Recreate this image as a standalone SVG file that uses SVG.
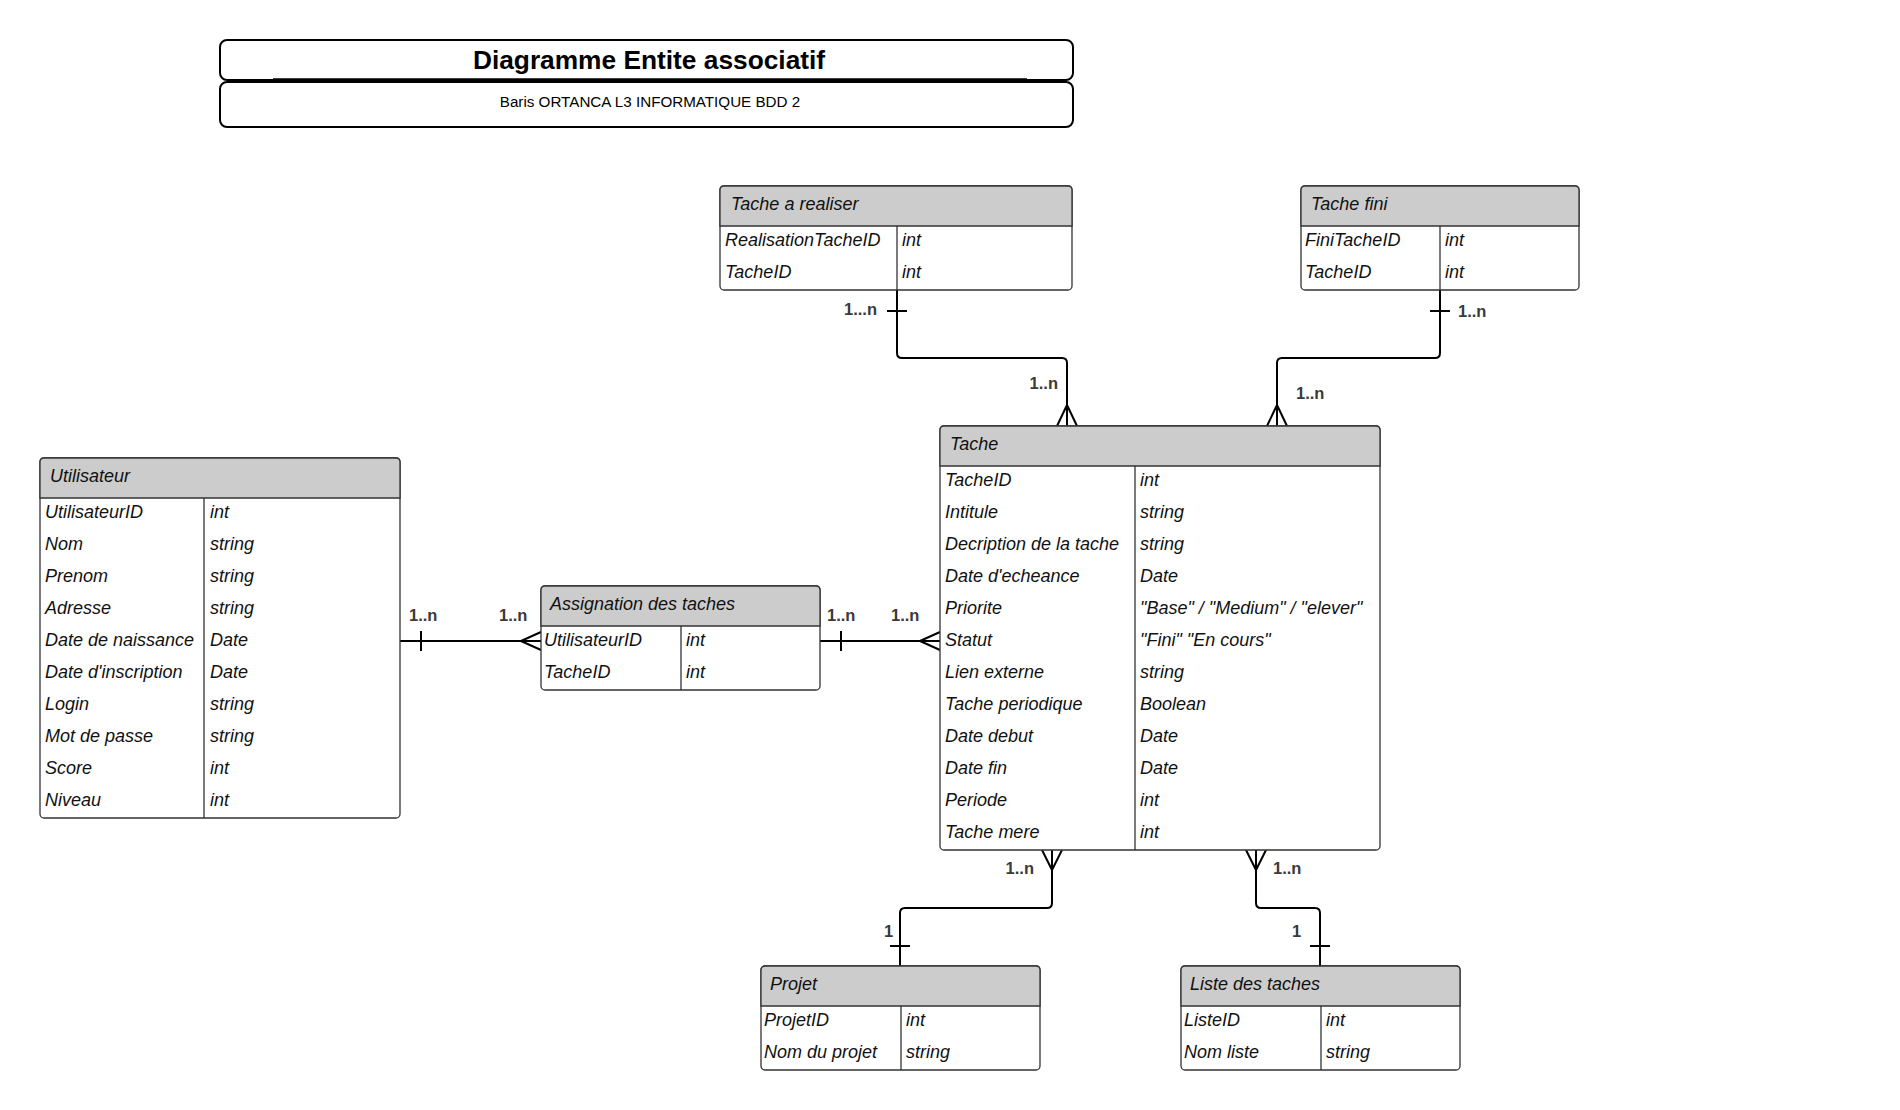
<svg xmlns="http://www.w3.org/2000/svg" width="1900" height="1110" viewBox="0 0 1900 1110">
<style>
.box{fill:#fff;stroke:#333;stroke-width:1.3}
.hdr{fill:#ccc;stroke:#333;stroke-width:1.3}
.sep{stroke:#333;stroke-width:1.3;fill:none}
.t{font-family:"Liberation Sans",Arial,sans-serif;font-size:18px;font-style:italic;fill:#111}
.lbl{font-family:"Liberation Sans",Arial,sans-serif;font-size:16.5px;font-weight:bold;fill:#3a3a3a}
.conn path,.conn line{stroke:#000;stroke-width:2;fill:none}
.title{font-family:"Liberation Sans",Arial,sans-serif;font-size:26.3px;font-weight:bold;fill:#000}
.sub{font-family:"Liberation Sans",Arial,sans-serif;font-size:15.2px;fill:#000}
</style>
<rect width="1900" height="1110" fill="#fff"/>

<g id="title">
<rect x="220" y="40" width="853" height="40" rx="7" fill="#fff" stroke="#000" stroke-width="2"/>
<line x1="273" y1="79.5" x2="1027" y2="79.5" stroke="#000" stroke-width="2.5"/>
<text class="title" x="649" y="69" text-anchor="middle">Diagramme Entite associatif</text>
</g>
<g id="subtitle">
<rect x="220" y="82" width="853" height="45" rx="7" fill="#fff" stroke="#000" stroke-width="2"/>
<text class="sub" x="650" y="107" text-anchor="middle">Baris ORTANCA L3 INFORMATIQUE BDD 2</text>
</g>

<g class="conn" id="connectors">
<!-- Tache a realiser -> Tache -->
<path d="M897 290 V353 Q897 358 902 358 H1062 Q1067 358 1067 363 V426"/>
<line x1="887" y1="311" x2="907" y2="311"/>
<path d="M1067 405 L1057 426 M1067 405 L1077 426"/>
<!-- Tache fini -> Tache -->
<path d="M1440 290 V353 Q1440 358 1435 358 H1282 Q1277 358 1277 363 V426"/>
<line x1="1430" y1="311" x2="1450" y2="311"/>
<path d="M1277 405 L1267 426 M1277 405 L1287 426"/>
<!-- Utilisateur -> Assignation -->
<path d="M400 641 H541"/>
<line x1="421" y1="631" x2="421" y2="651"/>
<path d="M521 641 L541 632 M521 641 L541 650"/>
<!-- Assignation -> Tache -->
<path d="M820 641 H940"/>
<line x1="841" y1="631" x2="841" y2="651"/>
<path d="M920 641 L940 632 M920 641 L940 650"/>
<!-- Tache -> Projet -->
<path d="M1052 850 V903 Q1052 908 1047 908 H905 Q900 908 900 913 V966"/>
<path d="M1052 870 L1042 850 M1052 870 L1062 850"/>
<line x1="890" y1="946" x2="910" y2="946"/>
<!-- Tache -> Liste -->
<path d="M1256 850 V903 Q1256 908 1261 908 H1315 Q1320 908 1320 913 V966"/>
<path d="M1256 870 L1246 850 M1256 870 L1266 850"/>
<line x1="1310" y1="946" x2="1330" y2="946"/>
<!-- labels -->
<text class="lbl" x="877" y="315" text-anchor="end">1...n</text>
<text class="lbl" x="1058" y="389" text-anchor="end">1..n</text>
<text class="lbl" x="1458" y="317">1..n</text>
<text class="lbl" x="1296" y="399">1..n</text>
<text class="lbl" x="409" y="621">1..n</text>
<text class="lbl" x="499" y="621">1..n</text>
<text class="lbl" x="827" y="621">1..n</text>
<text class="lbl" x="891" y="621">1..n</text>
<text class="lbl" x="1034" y="874" text-anchor="end">1..n</text>
<text class="lbl" x="1273" y="874">1..n</text>
<text class="lbl" x="884" y="937">1</text>
<text class="lbl" x="1292" y="937">1</text>
</g>

<g id="tache-a-realiser">
<rect class="box" x="720" y="186" width="352" height="104" rx="4"/>
<path class="hdr" d="M724 186 H1068 Q1072 186 1072 190 V226 H720 V190 Q720 186 724 186 Z"/>
<line class="sep" x1="897" y1="226" x2="897" y2="290"/>
<text class="t" x="731" y="210">Tache a realiser</text>
<text class="t" x="725" y="246">RealisationTacheID</text><text class="t" x="902" y="246">int</text>
<text class="t" x="725" y="278">TacheID</text><text class="t" x="902" y="278">int</text>
</g>

<g id="tache-fini">
<rect class="box" x="1301" y="186" width="278" height="104" rx="4"/>
<path class="hdr" d="M1305 186 H1575 Q1579 186 1579 190 V226 H1301 V190 Q1301 186 1305 186 Z"/>
<line class="sep" x1="1440" y1="226" x2="1440" y2="290"/>
<text class="t" x="1311" y="210">Tache fini</text>
<text class="t" x="1305" y="246">FiniTacheID</text><text class="t" x="1445" y="246">int</text>
<text class="t" x="1305" y="278">TacheID</text><text class="t" x="1445" y="278">int</text>
</g>

<g id="utilisateur">
<rect class="box" x="40" y="458" width="360" height="360" rx="4"/>
<path class="hdr" d="M44 458 H396 Q400 458 400 462 V498 H40 V462 Q40 458 44 458 Z"/>
<line class="sep" x1="204" y1="498" x2="204" y2="818"/>
<text class="t" x="50" y="482">Utilisateur</text>
<text class="t" x="45" y="518">UtilisateurID</text><text class="t" x="210" y="518">int</text>
<text class="t" x="45" y="550">Nom</text><text class="t" x="210" y="550">string</text>
<text class="t" x="45" y="582">Prenom</text><text class="t" x="210" y="582">string</text>
<text class="t" x="45" y="614">Adresse</text><text class="t" x="210" y="614">string</text>
<text class="t" x="45" y="646">Date de naissance</text><text class="t" x="210" y="646">Date</text>
<text class="t" x="45" y="678">Date d'inscription</text><text class="t" x="210" y="678">Date</text>
<text class="t" x="45" y="710">Login</text><text class="t" x="210" y="710">string</text>
<text class="t" x="45" y="742">Mot de passe</text><text class="t" x="210" y="742">string</text>
<text class="t" x="45" y="774">Score</text><text class="t" x="210" y="774">int</text>
<text class="t" x="45" y="806">Niveau</text><text class="t" x="210" y="806">int</text>
</g>

<g id="assignation">
<rect class="box" x="541" y="586" width="279" height="104" rx="4"/>
<path class="hdr" d="M545 586 H816 Q820 586 820 590 V626 H541 V590 Q541 586 545 586 Z"/>
<line class="sep" x1="681" y1="626" x2="681" y2="690"/>
<text class="t" x="550" y="610">Assignation des taches</text>
<text class="t" x="544" y="646">UtilisateurID</text><text class="t" x="686" y="646">int</text>
<text class="t" x="544" y="678">TacheID</text><text class="t" x="686" y="678">int</text>
</g>

<g id="tache">
<rect class="box" x="940" y="426" width="440" height="424" rx="4"/>
<path class="hdr" d="M944 426 H1376 Q1380 426 1380 430 V466 H940 V430 Q940 426 944 426 Z"/>
<line class="sep" x1="1135" y1="466" x2="1135" y2="850"/>
<text class="t" x="950" y="450">Tache</text>
<text class="t" x="945" y="486">TacheID</text><text class="t" x="1140" y="486">int</text>
<text class="t" x="945" y="518">Intitule</text><text class="t" x="1140" y="518">string</text>
<text class="t" x="945" y="550">Decription de la tache</text><text class="t" x="1140" y="550">string</text>
<text class="t" x="945" y="582">Date d'echeance</text><text class="t" x="1140" y="582">Date</text>
<text class="t" x="945" y="614">Priorite</text><text class="t" x="1140" y="614">"Base" / "Medium" / "elever"</text>
<text class="t" x="945" y="646">Statut</text><text class="t" x="1140" y="646">"Fini" "En cours"</text>
<text class="t" x="945" y="678">Lien externe</text><text class="t" x="1140" y="678">string</text>
<text class="t" x="945" y="710">Tache periodique</text><text class="t" x="1140" y="710">Boolean</text>
<text class="t" x="945" y="742">Date debut</text><text class="t" x="1140" y="742">Date</text>
<text class="t" x="945" y="774">Date fin</text><text class="t" x="1140" y="774">Date</text>
<text class="t" x="945" y="806">Periode</text><text class="t" x="1140" y="806">int</text>
<text class="t" x="945" y="838">Tache mere</text><text class="t" x="1140" y="838">int</text>
</g>

<g id="projet">
<rect class="box" x="761" y="966" width="279" height="104" rx="4"/>
<path class="hdr" d="M765 966 H1036 Q1040 966 1040 970 V1006 H761 V970 Q761 966 765 966 Z"/>
<line class="sep" x1="901" y1="1006" x2="901" y2="1070"/>
<text class="t" x="770" y="990">Projet</text>
<text class="t" x="764" y="1026">ProjetID</text><text class="t" x="906" y="1026">int</text>
<text class="t" x="764" y="1058">Nom du projet</text><text class="t" x="906" y="1058">string</text>
</g>

<g id="liste-des-taches">
<rect class="box" x="1181" y="966" width="279" height="104" rx="4"/>
<path class="hdr" d="M1185 966 H1456 Q1460 966 1460 970 V1006 H1181 V970 Q1181 966 1185 966 Z"/>
<line class="sep" x1="1321" y1="1006" x2="1321" y2="1070"/>
<text class="t" x="1190" y="990">Liste des taches</text>
<text class="t" x="1184" y="1026">ListeID</text><text class="t" x="1326" y="1026">int</text>
<text class="t" x="1184" y="1058">Nom liste</text><text class="t" x="1326" y="1058">string</text>
</g>
</svg>
